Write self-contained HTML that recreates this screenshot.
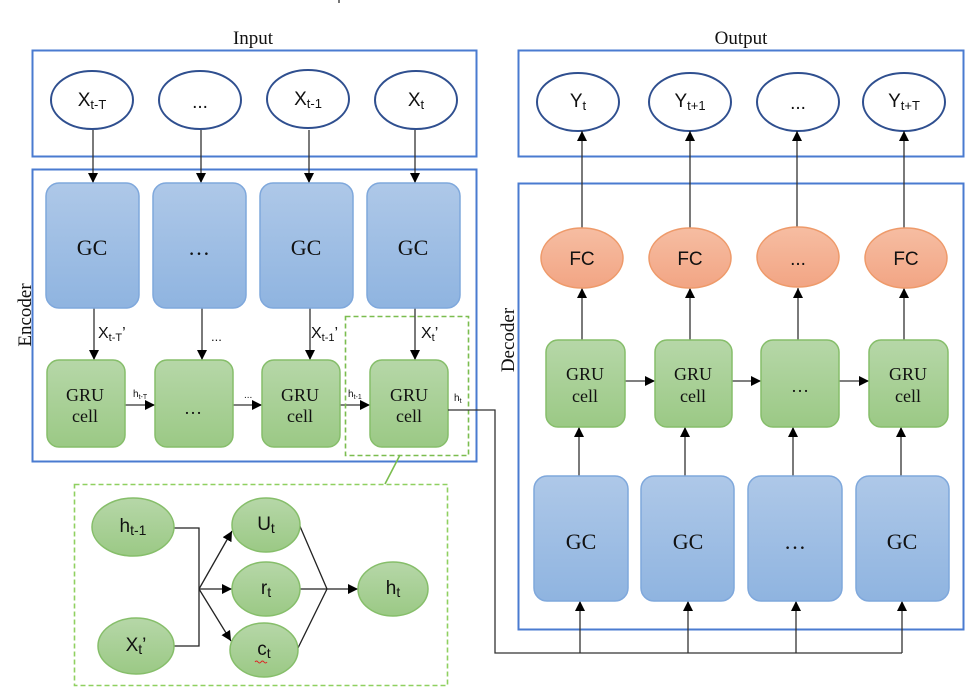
<!DOCTYPE html>
<html><head><meta charset="utf-8"><style>
html,body{margin:0;padding:0;background:#fff;}
svg{display:block;}
.s{font-family:"Liberation Serif",serif;fill:#111;}
.a{font-family:"Liberation Sans",sans-serif;fill:#111;}
</style></head><body>
<svg width="977" height="697" viewBox="0 0 977 697" xmlns="http://www.w3.org/2000/svg">
<defs>
<linearGradient id="gb" x1="0" y1="0" x2="0" y2="1"><stop offset="0" stop-color="#aec8e8"/><stop offset="1" stop-color="#8fb4e0"/></linearGradient>
<linearGradient id="gg" x1="0" y1="0" x2="0" y2="1"><stop offset="0" stop-color="#b6d7a8"/><stop offset="1" stop-color="#9bc985"/></linearGradient>
<linearGradient id="go" x1="0" y1="0" x2="0" y2="1"><stop offset="0" stop-color="#f6bda2"/><stop offset="1" stop-color="#f2a584"/></linearGradient>
<marker id="ar" viewBox="0 0 10 10" refX="10" refY="5" markerWidth="10" markerHeight="10" markerUnits="userSpaceOnUse" orient="auto"><path d="M0,0 L10,5 L0,10 z" fill="#000"/></marker>
</defs>
<rect x="338" y="0" width="2" height="3" fill="#777"/>
<text x="253" y="44" class="s" font-size="19" text-anchor="middle">Input</text>
<text x="741" y="44" class="s" font-size="19" text-anchor="middle">Output</text>
<rect x="32.5" y="50.5" width="444" height="106" fill="none" stroke="#4a7bd0" stroke-width="2"/>
<g fill="#fff" stroke="#2f4f8f" stroke-width="2">
<ellipse cx="92" cy="100" rx="41" ry="29"/><ellipse cx="200" cy="100" rx="41" ry="29"/>
<ellipse cx="308" cy="99" rx="41" ry="29"/><ellipse cx="416" cy="100" rx="41" ry="29"/>
</g>
<g class="a" font-size="19" text-anchor="middle">
<text x="92" y="106">X<tspan font-size="13" dy="3">t-T</tspan></text>
<text x="200" y="108">...</text>
<text x="308" y="105">X<tspan font-size="13" dy="3">t-1</tspan></text>
<text x="416" y="106">X<tspan font-size="13" dy="3">t</tspan></text>
</g>
<rect x="32.5" y="169.5" width="444" height="292" fill="none" stroke="#4a7bd0" stroke-width="2"/>
<text transform="translate(31,315) rotate(-90)" class="s" font-size="19" text-anchor="middle">Encoder</text>
<g stroke="#333" stroke-width="1.3" marker-end="url(#ar)">
<line x1="93" y1="130" x2="93" y2="183"/><line x1="201" y1="130" x2="201" y2="183"/>
<line x1="309" y1="130" x2="309" y2="183"/><line x1="415" y1="130" x2="415" y2="183"/>
<line x1="94" y1="308" x2="94" y2="360"/><line x1="202" y1="308" x2="202" y2="360"/>
<line x1="310" y1="308" x2="310" y2="360"/><line x1="415" y1="308" x2="415" y2="360"/>
<line x1="125" y1="405" x2="155" y2="405"/><line x1="233" y1="405" x2="262" y2="405"/>
<line x1="340" y1="405" x2="370" y2="405"/>
</g>
<g fill="url(#gb)" stroke="#7fa8dc" stroke-width="1.5">
<rect x="46" y="183" width="93" height="125" rx="13"/><rect x="153" y="183" width="93" height="125" rx="13"/>
<rect x="260" y="183" width="93" height="125" rx="13"/><rect x="367" y="183" width="93" height="125" rx="13"/>
</g>
<g class="s" font-size="22" text-anchor="middle">
<text x="92" y="255">GC</text><text x="199" y="255">…</text><text x="306" y="255">GC</text><text x="413" y="255">GC</text>
</g>
<g fill="url(#gg)" stroke="#86be6a" stroke-width="1.5">
<rect x="47" y="360" width="78" height="87" rx="12"/><rect x="155" y="360" width="78" height="87" rx="12"/>
<rect x="262" y="360" width="78" height="87" rx="12"/><rect x="370" y="360" width="78" height="87" rx="12"/>
</g>
<g class="s" font-size="18" text-anchor="middle">
<text x="85" y="401">GRU</text><text x="85" y="422">cell</text>
<text x="193" y="414">…</text>
<text x="300" y="401">GRU</text><text x="300" y="422">cell</text>
<text x="409" y="401">GRU</text><text x="409" y="422">cell</text>
</g>
<g class="a" font-size="16">
<text x="98" y="338">X<tspan font-size="11" dy="3">t-T</tspan><tspan dy="-3">’</tspan></text>
<text x="211" y="341" font-size="13">...</text>
<text x="311" y="338">X<tspan font-size="11" dy="3">t-1</tspan><tspan dy="-3">’</tspan></text>
<text x="421" y="338">X<tspan font-size="11" dy="3">t</tspan><tspan dy="-3">’</tspan></text>
<text x="133" y="397" font-size="10">h<tspan font-size="7" dy="2">t-T</tspan></text>
<text x="244" y="398" font-size="10">...</text>
<text x="348" y="397" font-size="10">h<tspan font-size="7" dy="2">t-1</tspan></text>
<text x="454" y="401" font-size="10">h<tspan font-size="7" dy="2">t</tspan></text>
</g>
<rect x="345.5" y="316.5" width="123" height="139" fill="none" stroke="#7bbd4f" stroke-width="1.6" stroke-dasharray="5,3"/>
<line x1="400" y1="455" x2="385" y2="484" stroke="#7bbd4f" stroke-width="1.6"/>
<polyline points="448,410 495,410 495,653 902,653" fill="none" stroke="#333" stroke-width="1.3"/>
<rect x="74.5" y="484.5" width="373" height="201" fill="none" stroke="#8fd060" stroke-width="1.6" stroke-dasharray="5,3"/>
<polyline points="174,528 199,528 199,646 174,646" fill="none" stroke="#222" stroke-width="1.3"/>
<g stroke="#222" stroke-width="1.3" marker-end="url(#ar)">
<line x1="199" y1="589" x2="232" y2="531"/><line x1="199" y1="589" x2="232" y2="589"/>
<line x1="199" y1="589" x2="231" y2="641"/><line x1="327" y1="589" x2="358" y2="589"/>
</g>
<polyline points="299,524 327,589 297,650" fill="none" stroke="#222" stroke-width="1.3"/>
<line x1="299" y1="589" x2="327" y2="589" stroke="#222" stroke-width="1.3"/>
<g fill="url(#gg)" stroke="#86be6a" stroke-width="1.5">
<ellipse cx="133" cy="527" rx="41" ry="29"/><ellipse cx="136" cy="646" rx="38" ry="28"/>
<ellipse cx="266" cy="525" rx="34" ry="27"/><ellipse cx="266" cy="589" rx="34" ry="27"/>
<ellipse cx="264" cy="650" rx="34" ry="27"/><ellipse cx="393" cy="589" rx="35" ry="27"/>
</g>
<g class="a" font-size="19" text-anchor="middle">
<text x="133" y="532">h<tspan font-size="14" dy="3">t-1</tspan></text>
<text x="136" y="651">X<tspan font-size="14" dy="3">t</tspan><tspan dy="-3">’</tspan></text>
<text x="266" y="530">U<tspan font-size="14" dy="3">t</tspan></text>
<text x="266" y="594">r<tspan font-size="14" dy="3">t</tspan></text>
<text x="264" y="655">c<tspan font-size="14" dy="3">t</tspan></text>
<text x="393" y="594">h<tspan font-size="14" dy="3">t</tspan></text>
</g>
<path d="M255,662 q1.5,-2 3,0 t3,0 t3,0 t3,0" fill="none" stroke="#d22" stroke-width="1"/>
<rect x="518.5" y="50.5" width="445" height="106" fill="none" stroke="#4a7bd0" stroke-width="2"/>
<g fill="#fff" stroke="#2f4f8f" stroke-width="2">
<ellipse cx="578" cy="102" rx="41" ry="29"/><ellipse cx="690" cy="102" rx="41" ry="29"/>
<ellipse cx="798" cy="102" rx="41" ry="29"/><ellipse cx="904" cy="102" rx="41" ry="29"/>
</g>
<g class="a" font-size="19" text-anchor="middle">
<text x="578" y="107">Y<tspan font-size="13" dy="3">t</tspan></text>
<text x="690" y="107">Y<tspan font-size="13" dy="3">t+1</tspan></text>
<text x="798" y="109">...</text>
<text x="904" y="107">Y<tspan font-size="13" dy="3">t+T</tspan></text>
</g>
<rect x="518.5" y="183.5" width="445" height="446" fill="none" stroke="#4a7bd0" stroke-width="2"/>
<text transform="translate(514,340) rotate(-90)" class="s" font-size="19" text-anchor="middle">Decoder</text>
<g stroke="#333" stroke-width="1.3" marker-end="url(#ar)">
<line x1="582" y1="228" x2="582" y2="131"/><line x1="690" y1="228" x2="690" y2="131"/>
<line x1="797" y1="228" x2="797" y2="131"/><line x1="904" y1="228" x2="904" y2="131"/>
<line x1="582" y1="340" x2="582" y2="288"/><line x1="690" y1="340" x2="690" y2="288"/>
<line x1="798" y1="340" x2="798" y2="288"/><line x1="904" y1="340" x2="904" y2="288"/>
<line x1="579" y1="476" x2="579" y2="427"/><line x1="685" y1="476" x2="685" y2="427"/>
<line x1="793" y1="476" x2="793" y2="427"/><line x1="901" y1="476" x2="901" y2="427"/>
<line x1="625" y1="381" x2="655" y2="381"/><line x1="732" y1="381" x2="761" y2="381"/>
<line x1="839" y1="381" x2="869" y2="381"/>
<line x1="580" y1="653" x2="580" y2="601"/><line x1="688" y1="653" x2="688" y2="601"/>
<line x1="796" y1="653" x2="796" y2="601"/><line x1="902" y1="653" x2="902" y2="601"/>
</g>
<g fill="url(#go)" stroke="#ee9a6a" stroke-width="1.5">
<ellipse cx="582" cy="258" rx="41" ry="30"/><ellipse cx="690" cy="258" rx="41" ry="30"/>
<ellipse cx="798" cy="257" rx="41" ry="30"/><ellipse cx="906" cy="258" rx="41" ry="30"/>
</g>
<g class="a" font-size="19" text-anchor="middle">
<text x="582" y="265">FC</text><text x="690" y="265">FC</text><text x="798" y="265">...</text><text x="906" y="265">FC</text>
</g>
<g fill="url(#gg)" stroke="#86be6a" stroke-width="1.5">
<rect x="546" y="340" width="79" height="87" rx="12"/><rect x="655" y="340" width="77" height="87" rx="12"/>
<rect x="761" y="340" width="78" height="87" rx="12"/><rect x="869" y="340" width="79" height="87" rx="12"/>
</g>
<g class="s" font-size="18" text-anchor="middle">
<text x="585" y="380">GRU</text><text x="585" y="402">cell</text>
<text x="800" y="392">…</text>
<text x="693" y="380">GRU</text><text x="693" y="402">cell</text>
<text x="908" y="380">GRU</text><text x="908" y="402">cell</text>
</g>
<g fill="url(#gb)" stroke="#7fa8dc" stroke-width="1.5">
<rect x="534" y="476" width="94" height="125" rx="13"/><rect x="641" y="476" width="93" height="125" rx="13"/>
<rect x="748" y="476" width="94" height="125" rx="13"/><rect x="856" y="476" width="93" height="125" rx="13"/>
</g>
<g class="s" font-size="22" text-anchor="middle">
<text x="581" y="549">GC</text><text x="688" y="549">GC</text><text x="795" y="549">…</text><text x="902" y="549">GC</text>
</g>
</svg>
</body></html>
